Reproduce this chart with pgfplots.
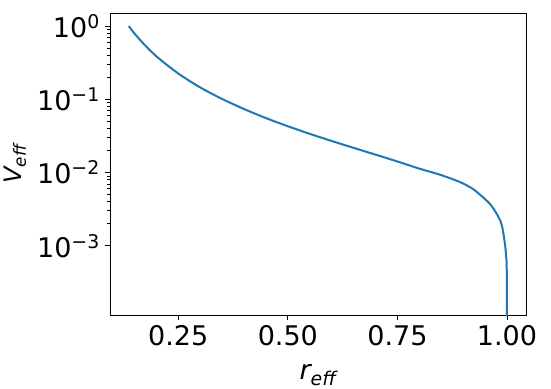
\documentclass[border=0pt]{standalone}
\usepackage{pgfplots}
\pgfplotsset{compat=1.18}
\usepackage{fontspec}
\setmainfont{DejaVu Sans}
\definecolor{mplblue}{HTML}{1F77B4}
\begin{document}
\begin{tikzpicture}
\begin{axis}[
  scale only axis,
  width=416bp, height=302bp,
  at={(0,0)}, anchor=south west,
  ymode=log,
  xmin=0.0943, xmax=1.0433,
  ymin=1.135e-4, ymax=1.51,
  axis line style={line width=0.8bp},
  tick style={black, line width=0.8bp},
  tick align=outside,
  major tick length=5bp,
  minor tick length=2.8bp,
  xtick pos=bottom, ytick pos=left,
  xtick={0.25,0.5,0.75,1.0},
  xticklabels={0.25,0.50,0.75,1.00},
  ytick={1e-3,1e-2,1e-1,1},
  yticklabels={10\textsuperscript{−3},10\textsuperscript{−2},10\textsuperscript{−1},10\textsuperscript{0}},
  minor xtick={},
  ticklabel style={font=\fontsize{27bp}{30bp}\selectfont},
  xticklabel style={inner sep=0pt, yshift=-5bp},
  yticklabel style={inner sep=0pt, xshift=-5bp},
  xlabel={\itshape r\textsubscript{eff}},
  ylabel={\itshape V\textsubscript{eff}},
  xlabel style={font=\fontsize{27bp}{30bp}\selectfont, at={(axis description cs:0.5,-0.215)}, anchor=base, inner sep=0pt},
  ylabel style={font=\fontsize{24bp}{28bp}\selectfont, at={(axis description cs:-0.228,0.5)}, anchor=center, inner sep=0pt},
  clip=true,
]
\addplot[mplblue, line width=2bp, smooth] coordinates {
(0.137,1.0)
(0.150,0.796)
(0.170,0.582)
(0.200,0.387)
(0.250,0.2254)
(0.300,0.1455)
(0.350,0.1013)
(0.400,0.0738)
(0.450,0.0555)
(0.500,0.0429)
(0.550,0.0338)
(0.600,0.0270)
(0.650,0.02175)
(0.700,0.01758)
(0.750,0.01417)
(0.800,0.01132)
(0.850,0.00923)
(0.8928,0.00741)
(0.920,0.00610)
(0.940,0.00490)
(0.960,0.00380)
(0.970,0.00316)
(0.980,0.00251)
(0.985,0.00219)
(0.990,0.00170)
(0.9954,0.00105)
(0.9980,0.00071)
(0.9995,0.00040)
(1.0000,0.00001)
};
\end{axis}
\path (-110bp,-74bp) rectangle (441bp,315bp);
\end{tikzpicture}
\end{document}
